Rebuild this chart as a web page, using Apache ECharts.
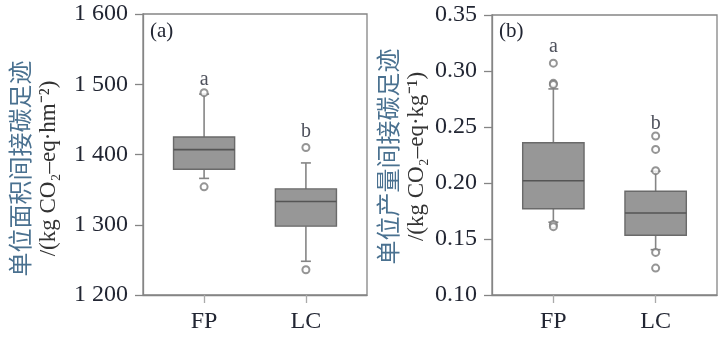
<!DOCTYPE html>
<html>
<head>
<meta charset="utf-8">
<script src="https://cdn.jsdelivr.net/npm/echarts@6/dist/echarts.min.js"></script>
<style>html,body{margin:0;padding:0;background:#fff;}#c{width:728px;height:341px;}</style>
</head>
<body>
<div id="c"></div>
<script>
// ---- data ----
const categories = ['FP', 'LC'];
// [whiskerLow, Q1, median, Q3, whiskerHigh]
const areaBoxes = [
  [1366, 1379, 1407, 1425, 1486],
  [1248, 1298, 1333, 1351, 1388]
];
const areaOutliers = [
  [1, 1354], [1, 1488],
  [2, 1410], [2, 1236]
];
const areaLetters = ['a', 'b'];
const areaLetterPos = [1507, 1432];

const yieldBoxes = [
  [0.165, 0.177, 0.202, 0.236, 0.284],
  [0.1405, 0.1533, 0.1732, 0.1926, 0.2105]
];
const yieldOutliers = [
  [1, 0.307], [1, 0.289], [1, 0.288], [1, 0.163], [1, 0.161],
  [2, 0.242], [2, 0.230], [2, 0.211], [2, 0.138], [2, 0.124]
];
const yieldLetters = ['a', 'b'];
const yieldLetterPos = [0.322, 0.253];

const areaTicks = [1200, 1300, 1400, 1500, 1600];
const yieldTicks = [0.10, 0.15, 0.20, 0.25, 0.30, 0.35];

// ---- styling ----
const SERIF = 'Liberation Serif';
const CJK = 'Noto Sans CJK SC';
const TEXT = '#222633';
const AXIS = '#858585';

function boxData(boxes) {
  return boxes.map((b, i) => [i + 1].concat(b));
}

function renderBox(params, api) {
  const x = api.value(0);
  const pLow = api.coord([x, api.value(1)]);
  const pQ1 = api.coord([x, api.value(2)]);
  const pMed = api.coord([x, api.value(3)]);
  const pQ3 = api.coord([x, api.value(4)]);
  const pHigh = api.coord([x, api.value(5)]);
  const l = api.coord([x - 0.3, api.value(3)])[0];
  const r = api.coord([x + 0.3, api.value(3)])[0];
  const cap = 5;
  const wStyle = { stroke: '#858585', lineWidth: 1.6 };
  return {
    type: 'group',
    children: [
      { type: 'line', shape: { x1: pLow[0], y1: pLow[1], x2: pQ1[0], y2: pQ1[1] }, style: wStyle },
      { type: 'line', shape: { x1: pQ3[0], y1: pQ3[1], x2: pHigh[0], y2: pHigh[1] }, style: wStyle },
      { type: 'line', shape: { x1: pLow[0] - cap, y1: pLow[1], x2: pLow[0] + cap, y2: pLow[1] }, style: wStyle },
      { type: 'line', shape: { x1: pHigh[0] - cap, y1: pHigh[1], x2: pHigh[0] + cap, y2: pHigh[1] }, style: wStyle },
      { type: 'rect', shape: { x: l, y: pQ3[1], width: r - l, height: pQ1[1] - pQ3[1] },
        style: { fill: '#979797', stroke: '#6a6a6a', lineWidth: 1.4 } },
      { type: 'line', shape: { x1: l, y1: pMed[1], x2: r, y2: pMed[1] }, style: { stroke: '#555', lineWidth: 1.6 } }
    ]
  };
}

function xAxisOpt(gridIndex) {
  return {
    type: 'value', gridIndex: gridIndex, min: 0.4, max: 2.6,
    axisLine: { show: true, lineStyle: { color: AXIS, width: 1.3 } },
    axisTick: { show: true, length: 8, customValues: [1, 2], lineStyle: { color: '#aaa', width: 1.3 } },
    axisLabel: {
      customValues: [1, 2], margin: 15,
      formatter: v => categories[Math.round(v) - 1] || '',
      fontFamily: SERIF, fontSize: 24, color: TEXT
    },
    splitLine: { show: false }
  };
}

function yAxisOpt(gridIndex, min, max, interval, fmt, title, unit, gap, shift) {
  return {
    type: 'value', gridIndex: gridIndex, min: min, max: max, interval: interval,
    axisLine: { show: true, lineStyle: { color: AXIS, width: 1.3 } },
    axisTick: { show: true, length: 8, lineStyle: { color: AXIS, width: 1.3 } },
    axisLabel: { formatter: fmt, fontFamily: SERIF, fontSize: 24, color: TEXT, margin: 15 },
    splitLine: { show: false },
    name: '{c|' + title + '}\n{u|' + unit + '}',
    nameLocation: 'middle', nameRotate: 90, nameGap: gap,
    nameTextStyle: {
      padding: [0, shift, 0, 0],
      rich: {
        c: { fontFamily: CJK, fontSize: 24, color: '#4a7190', lineHeight: 29 },
        u: { fontFamily: SERIF, fontSize: 23, color: '#333', lineHeight: 29 }
      }
    }
  };
}

function letterData(letters, pos) {
  return letters.map((t, i) => ({ value: [i + 1, pos[i]], name: t }));
}

const chart = echarts.init(document.getElementById('c'), null, { renderer: 'canvas' });
chart.setOption({
  animation: false,
  backgroundColor: '#fff',
  title: [
    { text: '(a)', left: 145, top: 16, textStyle: { fontFamily: SERIF, fontSize: 21, fontWeight: 'normal', color: TEXT } },
    { text: '(b)', left: 494, top: 16, textStyle: { fontFamily: SERIF, fontSize: 21, fontWeight: 'normal', color: TEXT } }
  ],
  grid: [
    { left: 143, top: 14, width: 224, height: 281, show: true, borderColor: AXIS, borderWidth: 1.3, backgroundColor: 'transparent' },
    { left: 492, top: 15, width: 225, height: 280, show: true, borderColor: AXIS, borderWidth: 1.3, backgroundColor: 'transparent' }
  ],
  xAxis: [xAxisOpt(0), xAxisOpt(1)],
  yAxis: [
    yAxisOpt(0, 1200, 1600, 100, v => String(Math.floor(v / 1000)) + ' ' + String(v % 1000).padStart(3, '0'),
      '单位面积间接碳足迹', '/(kg CO₂–eq·hm⁻²)', 80, 28),
    yAxisOpt(1, 0.10, 0.35, 0.05, v => v.toFixed(2),
      '单位产量间接碳足迹', '/(kg CO₂–eq·kg⁻¹)', 61, 3)
  ],
  series: [
    { type: 'custom', xAxisIndex: 0, yAxisIndex: 0, renderItem: renderBox, data: boxData(areaBoxes),
      encode: { x: 0, y: [1, 2, 3, 4, 5] }, z: 2 },
    { type: 'scatter', xAxisIndex: 0, yAxisIndex: 0, data: areaOutliers, symbol: 'emptyCircle', symbolSize: 7,
      itemStyle: { color: '#7a7a7a', borderColor: '#7a7a7a', borderWidth: 1.5 }, z: 3 },
    { type: 'scatter', xAxisIndex: 0, yAxisIndex: 0, data: letterData(areaLetters, areaLetterPos), symbolSize: 0,
      label: { show: true, position: 'inside', formatter: p => p.name, fontFamily: SERIF, fontSize: 20, color: TEXT }, z: 4 },
    { type: 'custom', xAxisIndex: 1, yAxisIndex: 1, renderItem: renderBox, data: boxData(yieldBoxes),
      encode: { x: 0, y: [1, 2, 3, 4, 5] }, z: 2 },
    { type: 'scatter', xAxisIndex: 1, yAxisIndex: 1, data: yieldOutliers, symbol: 'emptyCircle', symbolSize: 7,
      itemStyle: { color: '#7a7a7a', borderColor: '#7a7a7a', borderWidth: 1.5 }, z: 3 },
    { type: 'scatter', xAxisIndex: 1, yAxisIndex: 1, data: letterData(yieldLetters, yieldLetterPos), symbolSize: 0,
      label: { show: true, position: 'inside', formatter: p => p.name, fontFamily: SERIF, fontSize: 20, color: TEXT }, z: 4 }
  ]
});
</script>
</body>
</html>
